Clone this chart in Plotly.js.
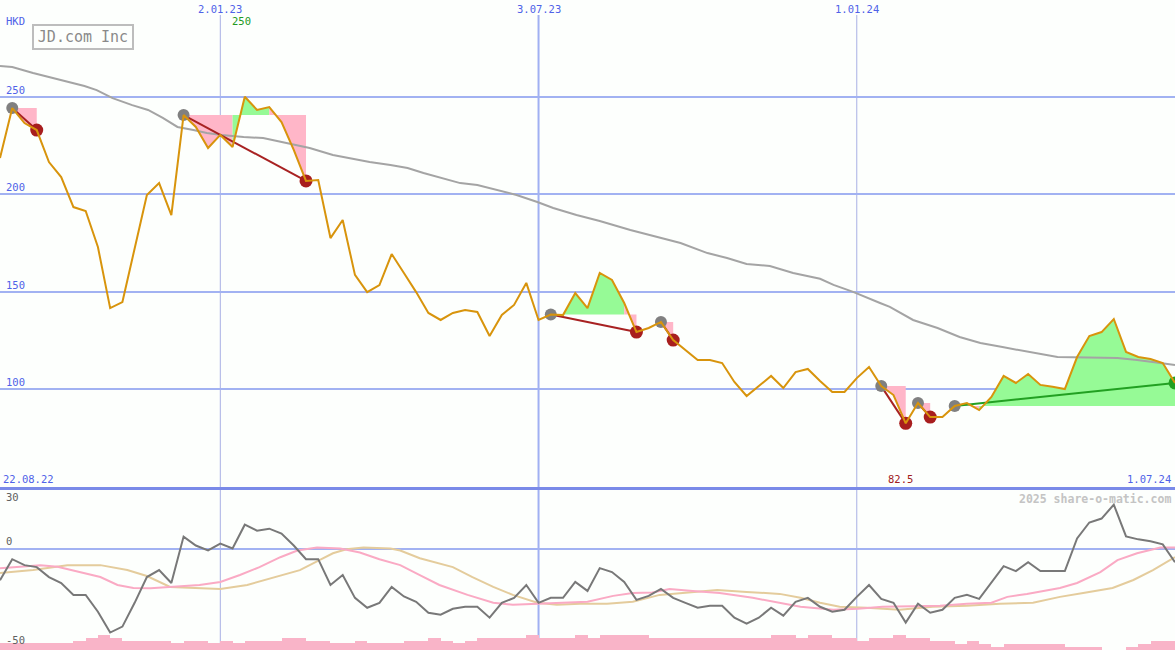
<!DOCTYPE html>
<html>
<head>
<meta charset="utf-8">
<script src="https://cdn.plot.ly/plotly-3.0.1.min.js"></script>
<style>
html,body{margin:0;padding:0;background:#fdfffd;}
#chart{width:1175px;height:650px;}
</style>
</head>
<body>
<div id="chart"></div>
<script>
// ---------- DATA (weekly, index 0 = 22.08.22 ... index 96 = 1.07.24) ----------
const title = 'JD.com Inc';
const currency = 'HKD';
const firstDate = '22.08.22';
const lastDate = '1.07.24';
const tickIdx = [18, 44, 70];
const tickLabels = ['2.01.23', '3.07.23', '1.01.24'];
const priceTicks = [100, 150, 200, 250];
const oscTicks = [30, 0, -50];

const price = [218.6,244.2,236.5,232.9,216.5,208.8,193.4,191.4,172.9,141.6,
  144.7,172.4,199.6,205.7,189.3,240.6,234.5,223.7,230.4,224.2,
  250.0,243.2,244.7,237.0,222.7,206.8,207.3,177.5,186.8,158.6,
  149.8,153.4,169.3,159.6,149.8,139.1,135.5,139.1,140.6,139.6,
  127.3,138.1,143.2,154.5,135.5,138.3,138.0,149.3,141.6,159.6,
  156.0,144.2,129.3,131.4,134.5,125.2,120.1,115.0,115.0,113.4,
  103.7,96.5,101.6,106.8,100.6,108.8,110.4,104.2,98.6,98.6,
  105.7,111.4,101.6,97.0,82.5,92.9,85.7,85.7,91.4,92.9,
  89.3,96.0,106.8,103.2,107.8,102.2,101.2,100.1,116.5,127.3,
  129.3,136.0,119.1,116.5,115.5,113.4,103.2];

// long moving average (read at these week positions)
const maWeek = [0,1,2.7,4.9,6.9,7.9,9.2,10.8,12.1,13.3,14.5,15.8,16.9,18.1,19.9,21.5,23.1,25.3,27.2,28.8,
  30.2,31.9,33.3,34.6,35.9,37.6,39,40.6,42.2,43.9,45.2,47.1,49,51.5,53.7,55.6,57.8,59.4,61,62.9,
  64.8,67,68.1,69.7,71.9,72.7,74.6,76.6,78.4,80.1,81.9,84.2,86.4,91.3,92.9,94.8,96];
const maValue = [265.7,265.2,262.2,258.6,255.5,253.4,249.3,245.7,243.2,239.1,234.5,232.9,231.4,230.4,229.3,228.8,226.8,223.7,220.1,218.1,
  216.5,215,213.4,210.9,208.8,205.7,204.7,202.2,199.6,196,192.9,189.3,186.3,181.6,178,175,169.8,167.3,164.2,163.2,
  159.6,156.6,153.5,149.9,144.2,142.2,135.5,131.4,126.8,123.7,121.6,119.1,116.5,116,115,113.4,112.4];

// signals: start week, end week
const signalStart = [1, 15, 45, 54, 72, 75, 78];
const signalEnd   = [3, 25, 52, 55, 74, 76, 96];

// lower panel oscillator
const osc = [-15.8,-5.2,-8.2,-9.2,-14.2,-17.2,-23.2,-23.2,-31.7,-42.2,
  -39.2,-27.2,-14.2,-10.7,-17.2,6.2,1.7,-0.8,2.7,0.2,
  12.2,9.2,10.2,7.7,1.7,-5.2,-5.2,-18.2,-13.2,-24.7,
  -29.7,-27.2,-19.2,-24.0,-26.7,-32.2,-33.2,-30.2,-29.2,-29.2,
  -34.7,-27.2,-24.7,-18.2,-27.2,-24.7,-24.7,-16.7,-21.2,-9.7,
  -11.7,-16.7,-25.7,-23.7,-20.2,-24.7,-27.2,-29.7,-28.7,-28.7,
  -34.7,-37.7,-34.7,-29.7,-33.7,-26.7,-24.7,-29.2,-31.7,-30.7,
  -24.2,-18.2,-25.2,-27.2,-37.2,-27.7,-32.2,-30.7,-24.7,-23.2,
  -25.2,-16.7,-8.7,-11.2,-6.7,-11.2,-11.2,-11.2,5.3,13.3,
  15.3,22.3,6.3,4.8,3.8,2.3,-6.7];

const pinkWeek = [0,3.3,4.7,6.8,8.2,9.6,10.9,12.3,14.1,16.3,18,19.6,21.2,22.9,24.3,25.9,27.8,29.4,31,32.7,
  34.3,35.9,38.2,40.3,41.9,44.1,46.3,48,50.1,51.7,53.3,54.7,56.6,58.8,61.5,63.2,65.4,68.1,70.1,72.1,
  74.3,76.8,79,81,82.3,83.9,86.6,88,89.9,91.3,92.9,94.8,96];
const pinkValue = [-9.8,-8.2,-9.0,-12.2,-14.2,-18.2,-19.7,-19.8,-19.2,-18.2,-16.7,-13.2,-9.2,-4.2,-0.8,0.7,0.2,-1.8,-5.2,-8.2,
  -13.2,-18.2,-23.2,-27.2,-28.2,-27.7,-27.2,-26.7,-23.7,-22.2,-22.0,-20.2,-21.2,-22.2,-24.7,-26.7,-29.2,-30.7,-30.2,-29.2,
  -29.0,-28.7,-27.7,-27.2,-24.2,-22.7,-19.7,-17.2,-11.7,-5.7,-2.2,0.7,0.7];

const tanWeek = [0,2.7,5.5,8.2,10.4,12,13.9,15.8,18,20.2,22.3,24.5,26.1,27.2,28.3,29.7,31.9,32.7,34.3,35.9,
  37,38.6,40.3,41.9,43.9,45.5,47.4,49.6,51.7,53.9,55.8,58.6,61,63.7,65.4,67,68.6,70.8,73.5,76.2,
  79,81.7,84.4,86.6,88.5,90.9,92.6,94.2,96];
const tanValue = [-12.2,-10.7,-8.2,-8.2,-10.7,-13.7,-19.2,-19.7,-20.2,-18.2,-14.7,-10.7,-5.7,-2.2,-0.2,0.7,0.2,-0.8,-4.7,-7.2,
  -9.2,-14.2,-19.2,-23.2,-27.2,-28.2,-27.7,-27.7,-26.7,-23.2,-22.2,-20.7,-21.7,-22.7,-24.7,-27.2,-29.2,-29.7,-30.7,-29.2,
  -28.7,-27.7,-27.2,-24.2,-22.2,-19.7,-15.7,-10.7,-4.2];

// relative weekly volume (bar i covers week i..i+1)
const volume = [7,7,7,7,7,7,9,12,15,12,
  9,9,9,9,7,9,9,7,9,7,
  9,9,9,12,12,9,9,7,7,9,
  7,7,7,9,9,12,9,7,9,12,
  12,12,12,15,12,12,12,15,12,15,
  15,15,15,12,12,12,12,12,12,12,
  12,12,12,15,15,12,15,15,12,12,
  9,12,12,15,12,12,9,9,6,9,
  6,3,6,6,6,6,6,3,3,3,
  0,0,3,6,9,9];

// ---------- STYLE ----------
const BG = '#fdfffd';
const GRID = '#a2b2f2';
const BLUE = '#4f62e8';
const PINK = '#ffb6c8';
const GREEN = '#96fa96';
const FONT = 'DejaVu Sans Mono, monospace';
const H = 650;

const weeks = price.map((_, i) => i);
const traces = [];

// volume bars (lower panel, own axis)
traces.push({
  type: 'bar', x: volume.map((_, i) => i), y: volume, offset: 0, width: 1,
  marker: {color: '#f9b4c8', line: {width: 0}}, xaxis: 'x2', yaxis: 'y3', hoverinfo: 'skip'
});

// signal fills
signalStart.forEach((s, k) => {
  const e = signalEnd[k];
  const lvl = price[s];
  const runs = [];
  for (let i = s; i < e; i++) {
    const c = price[i + 1] >= lvl ? GREEN : PINK;
    if (runs.length && runs[runs.length - 1].c === c) runs[runs.length - 1].b = i + 1;
    else runs.push({a: i, b: i + 1, c: c});
  }
  runs.forEach(r => {
    const xs = [];
    for (let i = r.a; i <= r.b; i++) xs.push(i);
    traces.push({x: xs, y: xs.map(() => lvl), mode: 'lines', line: {width: 0, color: r.c}, hoverinfo: 'skip'});
    traces.push({x: xs, y: xs.map(i => price[i]), mode: 'lines', line: {width: 0, color: r.c},
      fill: 'tonexty', fillcolor: r.c, hoverinfo: 'skip'});
  });
});

// moving average
traces.push({x: maWeek, y: maValue, mode: 'lines', line: {color: '#a4a4a4', width: 2}, hoverinfo: 'skip'});

// signal connecting lines and dots
signalStart.forEach((s, k) => {
  const e = signalEnd[k];
  const up = price[e] > price[s];
  traces.push({x: [s, e], y: [price[s], price[e]], mode: 'lines',
    line: {color: up ? '#22a022' : '#a82222', width: 2}, hoverinfo: 'skip'});
});
traces.push({x: signalStart, y: signalStart.map(i => price[i]), mode: 'markers',
  marker: {color: '#808080', size: 12}, hoverinfo: 'skip'});
traces.push({x: signalEnd, y: signalEnd.map(i => price[i]), mode: 'markers',
  marker: {color: signalEnd.map((e, k) => price[e] > price[signalStart[k]] ? '#22a022' : '#a81e1e'), size: 13},
  hoverinfo: 'skip'});

// price line
traces.push({x: weeks, y: price, mode: 'lines', line: {color: '#d8940c', width: 2}, hoverinfo: 'skip'});

// lower panel lines
traces.push({x: tanWeek, y: tanValue, mode: 'lines', line: {color: '#e4cc9c', width: 2}, xaxis: 'x2', yaxis: 'y2', hoverinfo: 'skip'});
traces.push({x: pinkWeek, y: pinkValue, mode: 'lines', line: {color: '#faaac4', width: 2}, xaxis: 'x2', yaxis: 'y2', hoverinfo: 'skip'});
traces.push({x: weeks, y: osc, mode: 'lines', line: {color: '#787878', width: 2}, xaxis: 'x2', yaxis: 'y2', hoverinfo: 'skip'});

// ---------- LAYOUT ----------
const mainBottom = 487, lowTop = 489;
const mainRange = [250 - (mainBottom - 96.7) / 1.95, 250 + 96.7 / 1.95];
const lowRange = [-51, 30.2];

const shapes = tickIdx.map((t, k) => {
  const jul = tickLabels[k].indexOf('.07.') >= 0;
  return {type: 'line', xref: 'x', yref: 'paper', x0: t, x1: t, y0: 0, y1: 1 - 15 / H,
    line: {color: jul ? '#a0b0f2' : '#a8b0e4', width: jul ? 2 : 1}, layer: 'below'};
});

const ann = [];
const f = (size, color, extra) => Object.assign({family: FONT, size: size, color: color}, extra || {});
tickIdx.forEach((t, k) => ann.push({xref: 'x', yref: 'paper', x: t, y: 1, yanchor: 'top', xanchor: 'center',
  yshift: -1, text: tickLabels[k], showarrow: false, font: f(10.5, BLUE)}));
priceTicks.forEach(v => ann.push({xref: 'paper', yref: 'y', x: 0, y: v, xanchor: 'left', yanchor: 'bottom',
  xshift: 4, yshift: -1, text: String(v), showarrow: false, font: f(10.5, BLUE)}));
ann.push({xref: 'paper', yref: 'paper', x: 0, y: 1, xanchor: 'left', yanchor: 'top', xshift: 4, yshift: -13,
  text: currency, showarrow: false, font: f(10.5, BLUE)});
ann.push({xref: 'paper', yref: 'paper', x: 32 / 1175, y: 1 - 24 / H, xanchor: 'left', yanchor: 'top',
  text: title, showarrow: false, font: f(15, '#8a8a8a'), bordercolor: '#bdbdbd', borderwidth: 2,
  borderpad: 2, width: 94, height: 18});
const maxIdx = price.indexOf(Math.max(...price));
const minIdx = price.indexOf(Math.min(...price));
ann.push({xref: 'x', yref: 'paper', x: maxIdx, y: 1, xanchor: 'center', yanchor: 'top', xshift: -3, yshift: -13,
  text: String(Math.round(price[maxIdx] * 10) / 10), showarrow: false, font: f(10.5, '#229922')});
ann.push({xref: 'x', yref: 'y', x: minIdx, y: mainRange[0], xanchor: 'center', yanchor: 'bottom', xshift: -5, yshift: 0,
  text: String(price[minIdx]), showarrow: false, font: f(10.5, '#a02020')});
ann.push({xref: 'paper', yref: 'y', x: 0, y: mainRange[0], xanchor: 'left', yanchor: 'bottom', xshift: 1, yshift: 0,
  text: firstDate, showarrow: false, font: f(10.5, BLUE)});
ann.push({xref: 'paper', yref: 'y', x: 1, y: mainRange[0], xanchor: 'right', yanchor: 'bottom', xshift: -2, yshift: 0,
  text: lastDate, showarrow: false, font: f(10.5, BLUE)});
ann.push({xref: 'paper', yref: 'paper', x: 1, y: 1 - lowTop / H, xanchor: 'right', yanchor: 'top', xshift: -2, yshift: -1,
  text: '<b>2025 share-o-matic.com</b>', showarrow: false, font: f(11.5, '#c4c4c4')});
oscTicks.forEach((v, k) => ann.push({xref: 'paper', yref: 'y2', x: 0, y: v, xanchor: 'left',
  yanchor: k === 0 ? 'top' : 'bottom', xshift: 4, yshift: 0, text: String(v), showarrow: false,
  font: f(10.5, '#606060')}));

const layout = {
  width: 1175, height: 650,
  margin: {l: 0, r: 0, t: 0, b: 0, pad: 0},
  paper_bgcolor: BG, plot_bgcolor: BG,
  showlegend: false, hovermode: false, bargap: 0,
  xaxis: {range: [0, 96], showgrid: false, zeroline: false, showticklabels: false, ticks: '',
    showline: true, linecolor: '#7a8ae8', linewidth: 3, anchor: 'y', fixedrange: true},
  yaxis: {domain: [1 - mainBottom / H, 1], range: mainRange, tickvals: priceTicks, showgrid: true,
    gridcolor: GRID, gridwidth: 2, zeroline: false, showticklabels: false, ticks: '', fixedrange: true},
  xaxis2: {range: [0, 96], matches: 'x', anchor: 'y2', showgrid: false, zeroline: false, showticklabels: false, ticks: ''},
  yaxis2: {domain: [0, 1 - lowTop / H], range: lowRange, showgrid: false, zeroline: true,
    zerolinecolor: GRID, zerolinewidth: 2, showticklabels: false, ticks: '', anchor: 'x2'},
  yaxis3: {domain: [0, 1 - lowTop / H], range: [0, H - lowTop], overlaying: 'y2', anchor: 'x2',
    showgrid: false, zeroline: false, showticklabels: false, ticks: ''},
  shapes: shapes,
  annotations: ann
};

Plotly.newPlot('chart', traces, layout, {staticPlot: true, displayModeBar: false});
</script>
</body>
</html>
